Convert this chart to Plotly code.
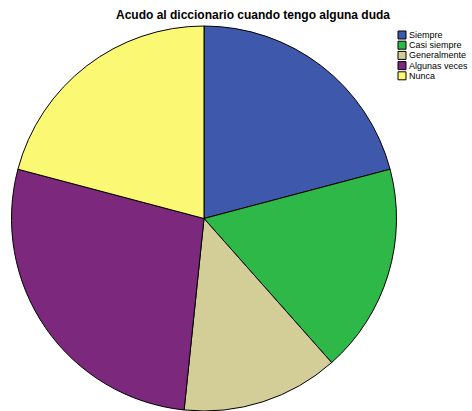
import plotly.graph_objects as go

categories = ["Siempre", "Casi siempre", "Generalmente", "Algunas veces", "Nunca"]
values = [19, 16, 12, 25, 19]
colors = ["#3E58AC", "#2EB848", "#D3CE97", "#7B287D", "#FBF873"]

W, H = 472, 411
fig = go.Figure(go.Pie(
    labels=categories, values=values, sort=False, direction="clockwise",
    rotation=0, textinfo="none", hoverinfo="label+value", showlegend=False,
    marker=dict(colors=colors, line=dict(color="black", width=1)),
    domain=dict(x=[11/W, 397/W], y=[0, 385/H]),
))

# legend drawn as paper-referenced squares + labels (SPSS style compact legend)
shapes, annots = [], []
x0, y_top, pitch, sq = 398, 31, 10.2, 8
for i, (lab, col) in enumerate(zip(categories, colors)):
    yt = y_top + i * pitch
    shapes.append(dict(type="rect", xref="paper", yref="paper",
                       x0=x0/W, x1=(x0+sq)/W, y0=1-(yt+sq)/H, y1=1-yt/H,
                       fillcolor=col, line=dict(color="black", width=1)))
    annots.append(dict(text=lab, xref="paper", yref="paper", showarrow=False,
                       x=(x0+sq+1)/W, y=1-(yt+sq/2)/H, xanchor="left", yanchor="middle",
                       font=dict(family="Liberation Sans, Arial", size=9, color="black")))

fig.update_layout(
    width=W, height=H, margin=dict(l=0, r=0, t=0, b=0, autoexpand=False),
    paper_bgcolor="white", plot_bgcolor="white", showlegend=False,
    shapes=shapes, annotations=annots,
    title=dict(text="<b>Acudo al diccionario cuando tengo alguna duda</b>",
               x=253/W, xanchor="center", y=1-15/H, yanchor="middle",
               font=dict(family="Liberation Sans, Arial", size=12, color="black")),
)
fig.write_html("out.html", config={"displayModeBar": False},
               post_script="document.body.style.margin='0';document.body.style.overflow='hidden';")
